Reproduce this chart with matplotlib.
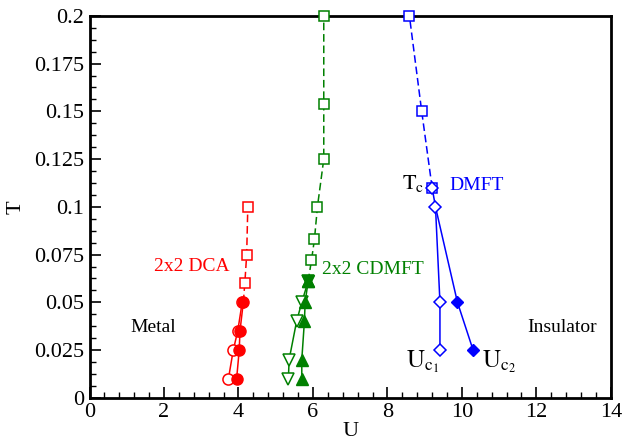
import matplotlib
matplotlib.use("Agg")
import matplotlib.pyplot as plt
from matplotlib.ticker import MultipleLocator

plt.rcParams["font.family"] = ["Liberation Serif", "DejaVu Serif"]
plt.rcParams["mathtext.fontset"] = "stix"

# DCA 2x2 (red)
dca_sq_u = [4.13, 4.17, 4.22, 4.25]
dca_sq_t = [0.05, 0.06, 0.075, 0.1]
dca_fill_u = [4.13, 4.04, 4.02, 3.95]
dca_fill_t = [0.05, 0.035, 0.025, 0.01]
dca_open_u = [4.10, 3.98, 3.86, 3.73]
dca_open_t = [0.05, 0.035, 0.025, 0.01]

# CDMFT 2x2 (green)
cd_sq_u = [5.87, 5.96, 6.04, 6.12, 6.29, 6.29, 6.29]
cd_sq_t = [0.061, 0.072, 0.083, 0.1, 0.125, 0.154, 0.2]
cd_tc_u = [5.87]
cd_tc_t = [0.061]
cd_fill_u = [5.87, 5.79, 5.77, 5.70, 5.70]
cd_fill_t = [0.061, 0.05, 0.04, 0.02, 0.01]
cd_open_u = [5.87, 5.70, 5.56, 5.36, 5.34]
cd_open_t = [0.061, 0.05, 0.04, 0.02, 0.01]

# single site DMFT (blue)
dm_sq_u = [9.20, 8.92, 8.59]
dm_sq_t = [0.11, 0.15, 0.2]
dm_c1_u = [9.20, 9.29, 9.41, 9.41]
dm_c1_t = [0.11, 0.1, 0.05, 0.025]
dm_c2_u = [9.29, 9.88, 10.30]
dm_c2_t = [0.1, 0.05, 0.025]

red = "#ff0000"
green = "#008000"
blue = "#0000ff"

fig = plt.figure(figsize=(6.35, 4.41), dpi=100)
ax = fig.add_axes([0.141, 0.098, 0.821, 0.866])

ms_sq = 7
lw = 1.1
dash = (5, 2.5)

# red
ax.plot(dca_sq_u, dca_sq_t, "--", color=red, lw=lw, dashes=dash)
ax.plot(dca_sq_u[1:], dca_sq_t[1:], "s", color=red, mfc="white", ms=ms_sq, mew=1.1)
ax.plot(dca_open_u, dca_open_t, "-o", color=red, mfc="white", ms=8, mew=1.1, lw=lw)
ax.plot(dca_fill_u, dca_fill_t, "-o", color=red, ms=8, lw=lw)

# green
ax.plot(cd_sq_u, cd_sq_t, "--", color=green, lw=lw, dashes=dash)
ax.plot(cd_sq_u[1:], cd_sq_t[1:], "s", color=green, mfc="white", ms=ms_sq, mew=1.1,
        clip_on=False, zorder=5)
ax.plot(cd_open_u, cd_open_t, "-v", color=green, mfc="white", ms=8, mew=1.1, lw=lw)
ax.plot(cd_fill_u, cd_fill_t, "-^", color=green, ms=8, lw=lw)
ax.plot(cd_tc_u, cd_tc_t, "v", color=green, ms=8)
ax.plot(cd_tc_u, cd_tc_t, "^", color=green, ms=8)

# blue
ax.plot(dm_sq_u, dm_sq_t, "--", color=blue, lw=lw, dashes=dash)
ax.plot(dm_sq_u, dm_sq_t, "s", color=blue, mfc="white", ms=ms_sq, mew=1.1,
        clip_on=False, zorder=5)
ax.plot(dm_c2_u, dm_c2_t, "-", color=blue, lw=lw)
ax.plot(dm_c2_u[1:], dm_c2_t[1:], "D", color=blue, ms=6.5)
ax.plot(dm_c1_u, dm_c1_t, "-", color=blue, lw=lw)
ax.plot(dm_c1_u, dm_c1_t, "D", color=blue, mfc="white", ms=6.5, mew=1.1, zorder=6)

ax.set_xlim(0, 14)
ax.set_ylim(0, 0.2)
ax.xaxis.set_major_locator(MultipleLocator(2))
ax.xaxis.set_minor_locator(MultipleLocator(0.4))
ax.yaxis.set_minor_locator(MultipleLocator(0.00625))
ax.set_yticks([0, 0.025, 0.05, 0.075, 0.1, 0.125, 0.15, 0.175, 0.2])
ax.set_yticklabels(["0", "0.025", "0.05", "0.075", "0.1", "0.125", "0.15", "0.175", "0.2"])
ax.tick_params(which="both", direction="in", top=False, right=False, labelsize=16)
ax.tick_params(which="major", length=8, width=1.2, pad=4)
ax.tick_params(which="minor", length=4, width=1.0)
for s in ax.spines.values():
    s.set_linewidth(2)

ax.set_xlabel("U", fontsize=16, labelpad=0)
ax.set_ylabel("T", fontsize=16, labelpad=6)

fs = 14
ax.text(1.7, 0.037, "Metal", fontsize=fs, ha="center", va="center")
ax.text(12.7, 0.037, "Insulator", fontsize=fs, ha="center", va="center")
ax.text(2.75, 0.069, "2x2 DCA", fontsize=fs, color=red, ha="center", va="center")
ax.text(7.62, 0.067, "2x2 CDMFT", fontsize=fs, color=green, ha="center", va="center")
ax.text(10.4, 0.111, "DMFT", fontsize=fs, color=blue, ha="center", va="center")
ax.text(8.7, 0.112, r"$\mathrm{T}_{\mathrm{c}}$", fontsize=16, ha="center", va="center")
ax.text(8.95, 0.019, r"$\mathrm{U}_{\mathrm{c}_1}$", fontsize=18, ha="center", va="center")
ax.text(11.0, 0.019, r"$\mathrm{U}_{\mathrm{c}_2}$", fontsize=18, ha="center", va="center")

fig.savefig("out.png", dpi=100)
